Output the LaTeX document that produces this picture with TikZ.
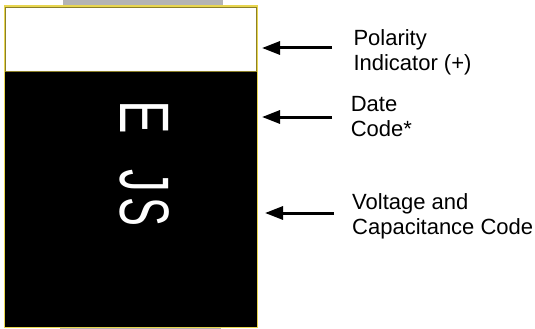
\documentclass[tikz,border=0pt]{standalone}
\usepackage{fontspec}
\setmainfont{Liberation Sans}
\usetikzlibrary{arrows.meta}
\definecolor{tabgray}{RGB}{180,180,180}
\definecolor{edgeyellow}{RGB}{232,214,80}
\definecolor{edgeolive}{RGB}{140,128,40}
\tikzset{
  lbl/.style={anchor=north west, inner sep=0pt, align=left, font=\fontsize{22}{25}\selectfont},
  letterstyle/.style={rotate=-90, anchor=base, inner sep=0pt, text=white, font=\fontsize{70}{70}\selectfont},
  pointer/.style={line width=3pt, -{Triangle[length=18pt,width=13pt]}},
}
\begin{document}
\begin{tikzpicture}[x=1pt,y=-1pt]
\useasboundingbox (0,0) rectangle (535,329);
% terminal tabs
\fill[tabgray] (63,0) rectangle (223.3,6);
\fill[tabgray] (60,326.7) rectangle (220.7,329);
% body
\fill[black] (4.5,6) rectangle (257.5,327.5);
\draw[edgeyellow, line width=1.8pt] (4.5,6) rectangle (257.5,327.5);
\draw[edgeolive, fill=white, line width=1pt] (5.8,7.8) rectangle (256,71.5);
% marking
\node[letterstyle] (e) at (120.5,117) {\scalebox{0.72}[1]{E}};
\node[letterstyle] (j) at (120.5,181) {\scalebox{0.65}[1]{J}};
\node[letterstyle] (s) at (120.5,212) {\scalebox{0.62}[1]{S}};
% labels
\node[lbl] (pol) at (353.3,29.25) {Polarity\\Indicator (+)};
\node[lbl] (date) at (350.6,96.25) {Date\\Code*};
\node[lbl] (volt) at (352,193.25) {Voltage and\\Capacitance Code};
% arrows
\coordinate (p1) at (332,48);  \coordinate (p0) at (262,48);
\coordinate (d1) at (332,117); \coordinate (d0) at (262,117);
\coordinate (v1) at (334,213); \coordinate (v0) at (265,213);
\draw[pointer] (p1) -- (p0);
\draw[pointer] (d1) -- (d0);
\draw[pointer] (v1) -- (v0);
\end{tikzpicture}
\end{document}
